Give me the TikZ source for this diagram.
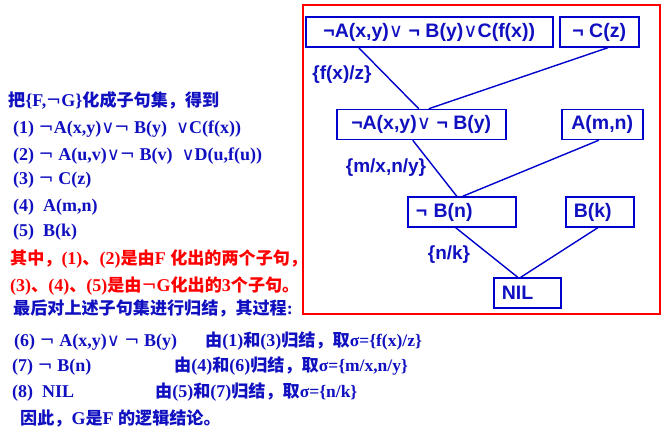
\documentclass[tikz,border=0pt]{standalone}
\usepackage{fontspec}
\setmainfont{Liberation Serif}
\newfontfamily\boxfont{Liberation Sans}
\newfontfamily\symfont{DejaVu Sans}
\newfontfamily\zhfont{Noto Sans CJK SC}[Scale=0.95]
\usetikzlibrary{positioning,calc}
\definecolor{resBlueLine}{HTML}{0000CC}
\definecolor{resBlueText}{HTML}{1010C0}
\definecolor{resRedLine}{HTML}{FF0000}
\newcommand{\zh}[1]{{\zhfont #1}}
\newcommand{\orr}{{\symfont\mdseries ∨}}
\newcommand{\nt}{{\symfont\mdseries ¬}}
\newcommand{\sg}[1]{{\fontsize{17.5}{19}\selectfont #1}}
\tikzset{
  clause box/.style={
    draw=resBlueLine, line width=1.5pt, anchor=west,
    minimum height=30pt, inner xsep=8pt, inner ysep=0pt,
    font=\boxfont\bfseries\fontsize{19.5}{21}\selectfont, text=resBlueText,
  },
  res edge/.style={
    line width=1.4pt, color=resBlueLine,
  },
  subst label/.style={
    font=\boxfont\bfseries\fontsize{19}{21}\selectfont, text=resBlueText,
  },
  note text/.style={
    anchor=west, inner sep=0pt, text height=13pt, text depth=4pt,
    font=\bfseries\fontsize{18}{20}\selectfont, text=resBlueText,
  },
  note red/.style={
    note text, text=resRedLine,
  },
}
\begin{document}
\begin{tikzpicture}[x=1pt, y=-1pt]
\useasboundingbox (0,0) rectangle (663,434);

%% resolution tree (right) ===========================================

\draw[resRedLine, line width=2pt] (303,5) rectangle (660,314);

% clauses
\node[clause box, minimum width=247pt] (c1) at (305,32) {¬A(x,y)\orr\ ¬ B(y)\orr C(f(x))};
\node[clause box, minimum width=79pt] (c3) at (559,32) {¬ C(z)};
\node[clause box, minimum width=169pt] (c6) at (336,124.5) {¬A(x,y)\orr\ ¬ B(y)};
\node[clause box, minimum width=81pt] (c4) at (561,124.5) {A(m,n)};
\node[clause box, text width=92pt, align=left] (c7) at (407,212) {¬ B(n)};
\node[clause box, text width=52pt, align=left] (c5) at (565,212) {B(k)};
\node[clause box, text width=51pt, align=left] (nil) at (493,293) {NIL};

% resolution steps
\draw[res edge] ([xshift=-70.5pt]c1.south) -- ([xshift=-2.5pt]c6.north);
\draw[res edge] ([xshift=8.5pt]c3.south) -- ([xshift=7.5pt]c6.north);
\draw[res edge] ([xshift=-8.5pt]c6.south) -- ([xshift=-5pt]c7.north);
\draw[res edge] ([xshift=-3.5pt]c4.south) -- ([xshift=1pt]c7.north);
\draw[res edge] ([xshift=-6pt]c7.south) -- ([xshift=-9.5pt]nil.north);
\draw[res edge] ([xshift=-2pt]c5.south) -- ([xshift=-6.5pt]nil.north);

% substitutions
\node[subst label] (s1) at (342,75) {\{f(x)/z\}};
\node[subst label] (s2) at (386,168) {\{m/x,n/y\}};
\node[subst label] (s3) at (449,255) {\{n/k\}};

%% clause set and steps (left) =======================================

\node[note text] (t0) at (8,102) {\zh{把}\{F,\nt G\}\zh{化成子句集，得到}};
\node[note text] (t1) at (13,129) {(1) \nt A(x,y)\orr\nt\ B(y) \ \orr C(f(x))};
\node[note text] (t2) at (13,156) {(2) \nt\ A(u,v)\orr\nt\ B(v) \ \orr D(u,f(u))};
\node[note text] (t3) at (13,180) {(3) \nt\ C(z)};
\node[note text] (t4) at (13,207) {(4) \ A(m,n)};
\node[note text] (t5) at (13,232) {(5) \ B(k)};
\node[note red] (r1) at (10,260) {\zh{其中，}(1)\zh{、}(2)\zh{是由}F \zh{化出的两个子句，}};
\node[note red] (r2) at (10,287) {(3)\zh{、}(4)\zh{、}(5)\zh{是由}\nt G\zh{化出的}3\zh{个子句。}};
\node[note text] (t8) at (13,310) {\zh{最后对上述子句集进行归结，其过程}:};

% steps with their unifiers
\node[note text] (t6) at (14,342) {(6) \nt\ A(x,y)\orr\ \nt\ B(y)};
\node[note text] (t7) at (12,367) {(7) \nt\ B(n)};
\node[note text] (t9) at (12,393) {(8) \ NIL};
\node[note text] (u6) at (205,342) {\zh{由}(1)\zh{和}(3)\zh{归结，取}\sg{σ=\{f(x)/z\}}};
\node[note text] (u7) at (174,367) {\zh{由}(4)\zh{和}(6)\zh{归结，取}\sg{σ=\{m/x,n/y\}}};
\node[note text] (u8) at (155,393) {\zh{由}(5)\zh{和}(7)\zh{归结，取}\sg{σ=\{n/k\}}};
\node[note text] (t10) at (20,420) {\zh{因此，}G\zh{是}F \zh{的逻辑结论。}};

\end{tikzpicture}
\end{document}
